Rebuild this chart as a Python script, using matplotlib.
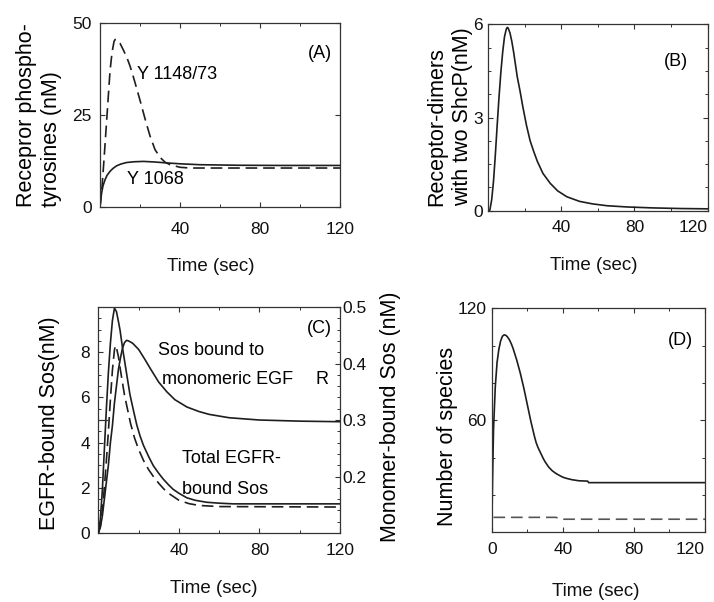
import matplotlib
matplotlib.use('Agg')
import matplotlib.pyplot as plt
from matplotlib.ticker import MultipleLocator

plt.rcParams['font.family'] = ['Liberation Sans', 'DejaVu Sans']

# (A) receptor phosphotyrosines
a_t_1148 = [0, 1, 2, 3, 4, 5, 6, 7, 7.5, 8, 9, 10, 12, 14, 15, 16, 17.5, 20, 22.5, 25, 27.5, 30, 32.5,
            35, 40, 45, 120]
a_y_1148 = [0, 5.5, 13, 21, 29, 37, 42, 45, 45.5, 45.6, 45.2, 44.5, 42.3, 39.8, 38.3, 36.6, 33.8, 29,
            24, 19.3, 15.6, 13.5, 12.2, 11.5, 10.8, 10.6, 10.6]
a_t_1068 = [0, 0.4, 0.8, 1.5, 2.5, 3.5, 5, 6.5, 8.3, 10.5, 13.3, 17, 21.7, 27, 33, 40, 50, 70, 90, 120]
a_y_1068 = [0, 2.2, 3.8, 5.8, 7.4, 8.6, 9.7, 10.5, 11.2, 11.7, 12.1, 12.3, 12.4, 12.25, 12.0, 11.75, 11.5, 11.35, 11.3, 11.3]

# (B) receptor dimers with two ShcP
b_t = [0, 1, 2, 3, 4, 5, 6, 7, 8, 9, 10, 10.5, 11, 12, 13, 14, 15, 16, 17.5, 19, 21, 23, 25, 27,
       30, 34, 38, 43, 50, 57, 65, 76, 90, 105, 120]
b_y = [0, 0.02, 0.35, 0.95, 1.8, 2.75, 3.65, 4.45, 5.1, 5.6, 5.85, 5.9, 5.88, 5.72, 5.45, 5.1, 4.7, 4.3,
       3.85, 3.35, 2.75, 2.25, 1.9, 1.58, 1.2, 0.88, 0.64, 0.45, 0.3, 0.22, 0.16, 0.12, 0.09, 0.07, 0.06]

# (C) EGFR-bound Sos (left axis) and monomer-bound Sos (right axis)
c_t_total = [0, 1, 2, 3, 4, 5, 6, 7, 8, 9, 10, 10.8, 12, 13.3, 14.5, 15.7, 17.5, 19.1, 20.7, 22.4,
             25, 27.3, 30, 32.3, 35, 37.2, 40, 43.9, 48, 53.8, 60, 67, 120]
c_y_total = [0, 0.6, 1.9, 3.7, 5.5, 7.1, 8.4, 9.4, 9.95, 9.8, 9.35, 8.97, 8.2, 7.47, 6.8, 6.13, 5.4,
             4.78, 4.3, 3.88, 3.38, 2.98, 2.64, 2.38, 2.12, 1.93, 1.76, 1.56, 1.45, 1.36, 1.32, 1.29, 1.29]
c_t_dash = [0, 1, 2, 3, 4, 5, 6, 7, 8, 8.5, 9, 10, 11, 13, 16, 18, 20, 22.5, 25, 27.5, 30, 32.5, 35,
            40, 45, 50, 60, 120]
c_y_dash = [0, 0.3, 1.0, 2.0, 3.2, 4.5, 5.9, 7.2, 8.1, 8.3, 8.2, 7.8, 7.2, 6.1, 4.85, 4.2, 3.7, 3.2,
            2.8, 2.48, 2.2, 1.95, 1.75, 1.45, 1.3, 1.22, 1.17, 1.15]
c_t_mono = [0, 1, 2, 3, 4, 5, 6, 7, 8, 9, 10, 11, 12, 13, 14, 15, 17, 20, 23, 26, 30, 34, 38, 44, 50,
            55, 65, 80, 100, 120]
c_y_mono = [0.1, 0.11, 0.13, 0.16, 0.19, 0.22, 0.26, 0.29, 0.33, 0.36, 0.39, 0.41, 0.427, 0.437,
            0.441, 0.44, 0.436, 0.425, 0.408, 0.39, 0.367, 0.35, 0.336, 0.323, 0.315, 0.31, 0.304,
            0.3, 0.298, 0.297]

# (D) number of species
d_t_solid = [0, 0.5, 1, 2, 3, 4, 5, 6, 7, 8, 9, 10, 11, 12, 13, 14, 15, 16, 17, 18, 19, 20, 21, 22,
             23, 24, 25, 26, 27, 28, 29, 30, 32, 34, 36, 38, 40, 42, 45, 49, 54, 54.5, 120]
d_y_solid = [0, 30, 55, 78, 91, 98, 102.5, 105, 105.8, 105.5, 104.5, 103, 101, 98.5, 95.5, 92.5, 89,
             85.5, 81.5, 77.5, 73, 68.5, 64, 59.5, 55.5, 51.5, 48, 45.5, 43.5, 41.5, 39.5, 37.8, 35,
             33, 31.6, 30.5, 29.5, 28.9, 28.2, 27.6, 27.4, 26.6, 26.6]
d_t_dash = [1, 36, 38, 40, 120]
d_y_dash = [8, 8, 7.5, 7.0, 7.0]

INK = '#1e1e1e'
TICK_FS = 12.5
LAB_FS = 15.5
TXT_FS = 13
DASH = (7, 3.5)


def style_axes(ax, xpad=7, ypad=5):
    for s in ax.spines.values():
        s.set_color('#333333')
        s.set_linewidth(0.9)
    ax.tick_params(which='both', direction='in', top=True, right=True, colors='#333333',
                   labelcolor='#111111', labelsize=TICK_FS)
    ax.tick_params(which='major', length=3.8, width=0.8)
    ax.tick_params(which='minor', length=2.2, width=0.7)
    ax.tick_params(axis='x', pad=xpad)
    ax.tick_params(axis='y', pad=ypad)
    ax.set_xlim(0, 120)
    ax.set_xticks([40, 80, 120])
    ax.set_xticks([20, 60, 100], minor=True)


def right_edge_label(ax):
    # last x tick label sits flush with the figure edge, as in the scan
    ax.get_xticklabels()[-1].set_horizontalalignment('right')


def time_label(ax, x, y):
    ax.set_xlabel('Time (sec)', fontsize=TXT_FS + 0.5, color='#111111')
    ax.xaxis.set_label_coords(x, y)


fig = plt.figure(figsize=(7.14, 6.02), dpi=100)

# ---- (A)
ax = fig.add_axes([0.1401, 0.6561, 0.3361, 0.3056])
style_axes(ax, xpad=11, ypad=6)
ax.plot(a_t_1148, a_y_1148, color=INK, lw=1.2, ls='--', dashes=DASH)
ax.plot(a_t_1068, a_y_1068, color=INK, lw=1.2)
ax.set_ylim(0, 50)
ax.set_yticks([0, 25, 50])
ax.text(18.3, 35.9, 'Y 1148/73', fontsize=TXT_FS, ha='left', va='center')
ax.text(13.3, 7.4, 'Y 1068', fontsize=TXT_FS, ha='left', va='center')
ax.text(115.8, 41.8, '(A)', fontsize=TXT_FS, ha='right', va='center')
ax.set_ylabel('Recepror phospho-\ntyrosines (nM)', fontsize=LAB_FS, multialignment='left',
              linespacing=1.25)
ax.yaxis.set_label_coords(-0.158, 0.5)
time_label(ax, 0.46, -0.277)

# ---- (B)
ax = fig.add_axes([0.6835, 0.65, 0.3077, 0.3096])
style_axes(ax, ypad=3.5)
right_edge_label(ax)
ax.plot(b_t, b_y, color=INK, lw=1.2)
ax.set_ylim(0, 6)
ax.set_yticks([0, 3, 6])
ax.yaxis.set_minor_locator(MultipleLocator(0.75))
ax.text(109.4, 4.8, '(B)', fontsize=TXT_FS, ha='right', va='center')
ax.set_ylabel('Receptor-dimers\nwith two ShcP(nM)', fontsize=LAB_FS, multialignment='left',
              linespacing=1.3)
ax.yaxis.set_label_coords(-0.068, 0.505)
time_label(ax, 0.482, -0.247)

# ---- (C)
ax = fig.add_axes([0.1377, 0.1146, 0.3385, 0.3754])
style_axes(ax, ypad=6)
ax.tick_params(which='both', right=False)
ax.plot(c_t_total, c_y_total, color=INK, lw=1.2)
ax.plot(c_t_dash, c_y_dash, color=INK, lw=1.2, ls='--', dashes=DASH)
ax.set_ylim(0, 10)
ax.set_yticks([0, 2, 4, 6, 8])
ax.yaxis.set_minor_locator(MultipleLocator(0.5))
ax.text(29.8, 8.09, 'Sos bound to', fontsize=TXT_FS, ha='left', va='center')
ax.text(31.5, 6.79, 'monomeric EGF', fontsize=TXT_FS, ha='left', va='center')
ax.text(41.4, 3.28, 'Total EGFR-', fontsize=TXT_FS, ha='left', va='center')
ax.text(41.4, 1.93, 'bound Sos', fontsize=TXT_FS, ha='left', va='center')
ax.text(110.9, 6.8, 'R', fontsize=TXT_FS, ha='center', va='center')
ax.text(115.9, 9.05, '(C)', fontsize=TXT_FS, ha='right', va='center')
ax.set_ylabel('EGFR-bound Sos(nM)', fontsize=LAB_FS)
ax.yaxis.set_label_coords(-0.158, 0.487)
time_label(ax, 0.476, -0.208)

ax2 = ax.twinx()
for s in ax2.spines.values():
    s.set_visible(False)
ax2.plot(c_t_mono, c_y_mono, color=INK, lw=1.2)
ax2.set_ylim(0.1, 0.5)
ax2.set_yticks([0.2, 0.3, 0.4, 0.5])
ax2.yaxis.set_minor_locator(MultipleLocator(0.02))
ax2.tick_params(which='both', direction='in', colors='#333333', labelcolor='#111111',
                labelsize=TICK_FS, pad=2)
ax2.tick_params(which='major', length=3.8, width=0.8)
ax2.tick_params(which='minor', length=2.2, width=0.7)
ax2.axhline(0.3, xmax=0.035, color='#333333', lw=0.9)
ax2.set_ylabel('Monomer-bound Sos (nM)', fontsize=LAB_FS)
ax2.yaxis.set_label_coords(1.166, 0.513)

# ---- (D)
ax = fig.add_axes([0.6887, 0.1158, 0.2987, 0.3721])
style_axes(ax, ypad=3.5)
ax.set_xticks([0, 40, 80, 120])
right_edge_label(ax)
ax.plot(d_t_solid, d_y_solid, color=INK, lw=1.2)
ax.plot(d_t_dash, d_y_dash, color='#555555', lw=1.2, ls='--', dashes=DASH)
ax.set_ylim(0, 120)
ax.set_yticks([60, 120])
ax.set_yticks([20, 40, 80, 100], minor=True)
ax.text(113.4, 103, '(D)', fontsize=TXT_FS, ha='right', va='center')
ax.set_ylabel('Number of species', fontsize=LAB_FS)
ax.yaxis.set_label_coords(-0.158, 0.428)
time_label(ax, 0.488, -0.228)

fig.savefig('out.png', dpi=100)
